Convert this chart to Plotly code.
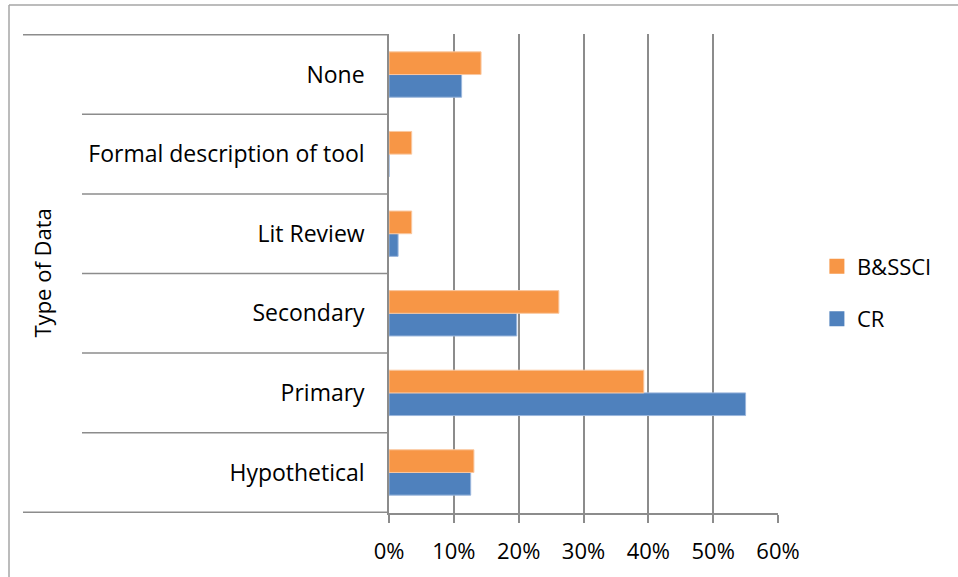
import plotly.graph_objects as go

categories = ["Hypothetical", "Primary", "Secondary", "Lit Review",
              "Formal description of tool", "None"]
cr_values = [0.126, 0.550, 0.197, 0.014, 0.0, 0.112]
bssci_values = [0.131, 0.393, 0.262, 0.035, 0.035, 0.142]
x_ticks = [0, 0.1, 0.2, 0.3, 0.4, 0.5, 0.6]

FONT = "Open Sans, sans-serif"
GRID = "#8c8c8c"
BLUE = "#4F81BD"
ORANGE = "#F79646"

fig = go.Figure()
fig.add_trace(go.Bar(
    y=categories, x=cr_values, orientation="h", name="CR",
    marker=dict(color=BLUE, line=dict(color="#9ab6dc", width=1)),
    showlegend=False))
fig.add_trace(go.Bar(
    y=categories, x=bssci_values, orientation="h", name="B&SSCI",
    marker=dict(color=ORANGE, line=dict(color="#fac79f", width=1)),
    showlegend=False))
# legend entries (square swatches)
fig.add_trace(go.Scatter(x=[None], y=[None], mode="markers", name="B&SSCI",
                         marker=dict(symbol="square", size=15, color=ORANGE),
                         legendrank=1, legendgroup="bs"))
fig.add_trace(go.Scatter(x=[None], y=[None], mode="markers", name="CR",
                         marker=dict(symbol="square", size=15, color=BLUE),
                         legendrank=2, legendgroup="cr"))

PW = 778 - 389
PH = 515 - 34
shapes = []
for i in range(1, len(categories)):
    shapes.append(dict(type="line", xref="paper", yref="y",
                       x0=(82 - 389) / PW, x1=0,
                       y0=i - 0.5, y1=i - 0.5,
                       line=dict(color=GRID, width=1.5)))
for yv in [-0.5, len(categories) - 0.5]:
    shapes.append(dict(type="line", xref="paper", yref="y",
                       x0=(23 - 389) / PW, x1=0,
                       y0=yv, y1=yv,
                       line=dict(color=GRID, width=1.5)))
# chart border (left and top)
shapes.append(dict(type="line", xref="paper", yref="paper",
                   x0=(9 - 389) / PW, x1=(9 - 389) / PW,
                   y0=(515 - 580) / PH, y1=(515 - 5) / PH,
                   line=dict(color="#a6a6a6", width=1.5)))
shapes.append(dict(type="line", xref="paper", yref="paper",
                   x0=(9 - 389) / PW, x1=(960 - 389) / PW,
                   y0=(515 - 5) / PH, y1=(515 - 5) / PH,
                   line=dict(color="#a6a6a6", width=1.5)))

fig.update_layout(
    width=958, height=577,
    margin=dict(l=389, r=180, t=34, b=62),
    paper_bgcolor="white", plot_bgcolor="white",
    barmode="group", bargap=0.43, bargroupgap=0,
    font=dict(family=FONT, size=23, color="black"),
    showlegend=True,
    legend=dict(x=1.1, y=(515 - 294) / PH, xanchor="left", yanchor="middle",
                traceorder="grouped", tracegroupgap=21,
                font=dict(family=FONT, size=22), itemwidth=30),
    shapes=shapes,
    annotations=[dict(text="Type of Data", textangle=-90, xref="paper", yref="paper",
                      x=(41 - 389) / PW, y=0.5, xanchor="center", yanchor="middle",
                      showarrow=False, font=dict(family=FONT, size=22))],
)
fig.update_xaxes(
    range=[0, 0.6], tickvals=x_ticks, tickformat=".0%",
    showgrid=True, gridcolor=GRID, gridwidth=1.5,
    showline=True, linecolor=GRID, linewidth=1.5,
    ticks="outside", ticklen=8, tickcolor=GRID, tickwidth=1.5,
    ticklabelstandoff=10, zeroline=False,
    tickfont=dict(size=22),
)
fig.update_yaxes(
    categoryorder="array", categoryarray=categories,
    showline=True, linecolor=GRID, linewidth=1.5,
    showgrid=False, ticks="", ticklabelstandoff=18, zeroline=False,
)

fig.write_html("out.html", config={"displayModeBar": False},
               post_script="document.body.style.margin='0';")
